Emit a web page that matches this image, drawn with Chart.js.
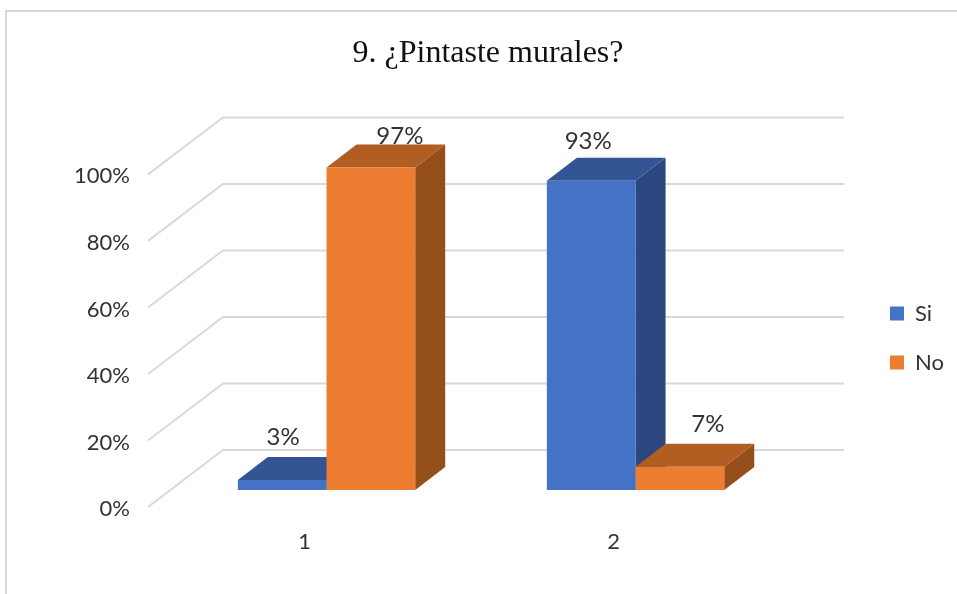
<!DOCTYPE html>
<html>
<head>
<meta charset="utf-8">
<style>
  html, body { margin: 0; padding: 0; background: #fff; overflow: hidden; }
  canvas { display: block; }
</style>
<script src="https://cdn.jsdelivr.net/npm/chart.js@4"></script>
</head>
<body>
<canvas id="chart" width="957" height="594"></canvas>
<script>
const chartTitle = '9. ¿Pintaste murales?';
const categories = ['1', '2'];
const seriesNames = ['Si', 'No'];
const siValues = [3, 93];
const noValues = [97, 7];

// colours of the front, top and side faces
const siColors = { front: '#4472C4', top: '#335593', side: '#2A4780' };
const noColors = { front: '#ED7D31', top: '#B25D21', side: '#954F1B' };

// the bars stand in the middle of the floor, between the tick edge and the back wall
const wallDepth = { x: 73, y: -59 };
const barShift = { x: 22, y: -19 };
const barDepth = { x: 30, y: -23 };
// tick text sits a little under the end of its grid line
const tickDrop = 2;
// data labels sit a bit off the bar, as in the original
const labelNudge = [[{ x: 1, y: -43 }, { x: -3, y: -39 }], [{ x: 29, y: -31 }, { x: 28, y: -42 }]];

const face = (ctx, color, pts) => {
  ctx.fillStyle = color;
  ctx.beginPath();
  pts.forEach((p, i) => i ? ctx.lineTo(p[0], p[1]) : ctx.moveTo(p[0], p[1]));
  ctx.closePath();
  ctx.fill();
};

const frame3d = {
  id: 'frame3d',
  afterLayout(chart) {
    // the legend sits right of the walls, not against the plot area
    const lg = chart.legend;
    lg.left = 863; lg.right = 957;
    lg.top += 41; lg.bottom += 41;
    // the title is centred on the whole frame
    chart.titleBlock.left += 58.5;
    chart.titleBlock.right += 58.5;
  },
  beforeDraw(chart) {
    const ctx = chart.ctx;
    ctx.save();
    ctx.strokeStyle = '#D9D9D9';
    ctx.lineWidth = 2;
    ctx.beginPath();
    ctx.moveTo(6, 594); ctx.lineTo(6, 11); ctx.lineTo(957, 11);
    ctx.stroke();
    ctx.restore();
  },
  beforeDatasetsDraw(chart) {
    const ctx = chart.ctx;
    const yScale = chart.scales.y;
    const left = chart.chartArea.left;
    const right = chart.chartArea.right;
    ctx.save();
    ctx.strokeStyle = '#D9D9D9';
    ctx.lineWidth = 2;
    yScale.ticks.forEach(t => {
      const y = yScale.getPixelForValue(t.value);
      ctx.beginPath();
      ctx.moveTo(left - 2, y - tickDrop);
      ctx.lineTo(left + wallDepth.x, y + wallDepth.y);
      ctx.lineTo(right + wallDepth.x + 3, y + wallDepth.y);
      ctx.stroke();
    });
    ctx.restore();

    ctx.save();
    ctx.translate(barShift.x, barShift.y);
    chart.data.datasets.forEach((ds, i) => {
      chart.getDatasetMeta(i).data.forEach(bar => {
        const x0 = bar.x - bar.width / 2;
        const x1 = bar.x + bar.width / 2;
        const dx = barDepth.x, dy = barDepth.y;
        face(ctx, ds.faces.side, [[x1, bar.y], [x1 + dx, bar.y + dy], [x1 + dx, bar.base + dy], [x1, bar.base]]);
        face(ctx, ds.faces.top, [[x0, bar.y], [x0 + dx, bar.y + dy], [x1 + dx, bar.y + dy], [x1, bar.y]]);
      });
    });
  },
  afterDatasetsDraw(chart) {
    const ctx = chart.ctx;
    ctx.restore();
    ctx.save();
    ctx.fillStyle = '#333333';
    ctx.font = '24px Lato';
    ctx.textAlign = 'center';
    ctx.textBaseline = 'middle';
    chart.data.datasets.forEach((ds, i) => {
      chart.getDatasetMeta(i).data.forEach((bar, j) => {
        const n = labelNudge[i][j];
        ctx.fillText(ds.data[j] + '%', bar.x + barShift.x + n.x, bar.y + barShift.y + n.y);
      });
    });
    ctx.restore();
  }
};

new Chart(document.getElementById('chart'), {
  type: 'bar',
  data: {
    labels: categories,
    datasets: [
      { label: seriesNames[0], data: siValues, backgroundColor: siColors.front, faces: siColors, clip: false },
      { label: seriesNames[1], data: noValues, backgroundColor: noColors.front, faces: noColors, clip: false }
    ]
  },
  options: {
    responsive: false,
    animation: false,
    layout: { padding: { right: 98 } },
    categoryPercentage: 0.574,
    barPercentage: 1,
    plugins: {
      title: {
        display: true,
        text: chartTitle,
        color: '#111111',
        font: { family: 'Liberation Serif', size: 32, weight: 'normal' },
        padding: { top: 34, bottom: 104 }
      },
      legend: {
        position: 'right',
        labels: {
          boxWidth: 14,
          boxHeight: 14,
          padding: 27,
          color: '#333333',
          font: { family: 'Lato', size: 22 }
        }
      },
      tooltip: { enabled: false }
    },
    scales: {
      x: {
        grid: { display: false },
        border: { display: false },
        ticks: { padding: 12, color: '#333333', font: { family: 'Lato', size: 22 } },
        afterFit(scale) { scale.height = 85; }
      },
      y: {
        min: 0,
        max: 100,
        grid: { display: false },
        border: { display: false },
        ticks: {
          stepSize: 20,
          padding: 12,
          color: '#333333',
          font: { family: 'Lato', size: 22 },
          callback: v => v + '%'
        },
        afterFit(scale) { scale.width = 150; }
      }
    }
  },
  plugins: [frame3d]
});
</script>
</body>
</html>
